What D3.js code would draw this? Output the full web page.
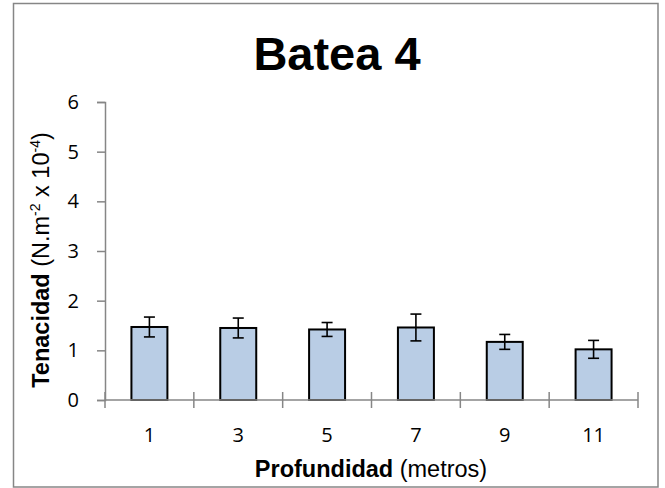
<!DOCTYPE html>
<html>
<head>
<meta charset="utf-8">
<script src="https://cdn.jsdelivr.net/npm/d3@7"></script>
<style>
  html, body { margin: 0; padding: 0; background: #fff; }
  svg { display: block; }
</style>
</head>
<body>
<svg id="chart" width="665" height="488"></svg>
<script>
// Depth (metres) and mean tenacity with its standard deviation
const depths = ["1", "3", "5", "7", "9", "11"];
const tenacity = [1.47, 1.45, 1.42, 1.46, 1.17, 1.02];
const tenacityErr = [0.20, 0.20, 0.14, 0.27, 0.15, 0.18];
const yTicks = [0, 1, 2, 3, 4, 5, 6];

const svg = d3.select("#chart");
const W = 665, H = 488;
const margin = { left: 105, right: 27, top: 102, bottom: 88 };
const axisColor = "#868686";
const tickFont = "'Open Sans', 'Liberation Sans', sans-serif";
const labelFont = "'Liberation Sans', Arial, sans-serif";

// outer frame
svg.append("rect")
  .attr("x", 13.5).attr("y", 3.5)
  .attr("width", 644.5).attr("height", 483.5)
  .attr("fill", "#fff")
  .attr("stroke", axisColor).attr("stroke-width", 1.5);

const x = d3.scaleBand()
  .domain(depths)
  .range([margin.left, W - margin.right])
  .paddingInner(0.595)
  .paddingOuter(0.2975);

const y = d3.scaleLinear()
  .domain([0, 6])
  .range([H - margin.bottom, margin.top]);

// title
svg.append("text")
  .attr("x", 337).attr("y", 70)
  .attr("text-anchor", "middle")
  .attr("font-family", labelFont)
  .attr("font-weight", "bold")
  .attr("font-size", 47)
  .text("Batea 4");

// bars
svg.append("g").selectAll("rect")
  .data(depths)
  .join("rect")
  .attr("x", d => x(d))
  .attr("y", (d, i) => y(tenacity[i]))
  .attr("width", x.bandwidth())
  .attr("height", (d, i) => y(0) - y(tenacity[i]))
  .attr("fill", "#b9cde5")
  .attr("stroke", "#000")
  .attr("stroke-width", 2);

// error bars
const capHalf = 5.5;
const err = svg.append("g").attr("stroke", "#000").attr("stroke-width", 1.6);
depths.forEach((d, i) => {
  const cx = x(d) + x.bandwidth() / 2;
  const hi = y(tenacity[i] + tenacityErr[i]);
  const lo = y(tenacity[i] - tenacityErr[i]);
  err.append("line").attr("x1", cx).attr("x2", cx).attr("y1", hi).attr("y2", lo);
  err.append("line").attr("x1", cx - capHalf).attr("x2", cx + capHalf).attr("y1", hi).attr("y2", hi);
  err.append("line").attr("x1", cx - capHalf).attr("x2", cx + capHalf).attr("y1", lo).attr("y2", lo);
});

// y axis
const yAxis = svg.append("g")
  .attr("transform", `translate(${margin.left},0)`)
  .call(d3.axisLeft(y).tickValues(yTicks).tickSize(8).tickPadding(18).tickFormat(d3.format("d")));
yAxis.select(".domain").attr("stroke", axisColor).attr("stroke-width", 1.5);
yAxis.selectAll(".tick line").attr("stroke", axisColor).attr("stroke-width", 1.5);
yAxis.selectAll(".tick text")
  .attr("fill", "#000").attr("font-family", tickFont).attr("font-size", 20);

// x axis: line plus crossing tick marks between categories
const xAxisY = y(0);
const xAxis = svg.append("g").attr("transform", `translate(0,${xAxisY})`);
xAxis.append("line")
  .attr("x1", margin.left).attr("x2", W - margin.right)
  .attr("stroke", axisColor).attr("stroke-width", 1.5);
const step = x.step();
const boundaries = d3.range(depths.length + 1).map(i => margin.left + i * step);
xAxis.selectAll("line.tick")
  .data(boundaries)
  .join("line")
  .attr("class", "tick")
  .attr("x1", d => d).attr("x2", d => d)
  .attr("y1", -8).attr("y2", 8)
  .attr("stroke", axisColor).attr("stroke-width", 1.5);
xAxis.selectAll("text")
  .data(depths)
  .join("text")
  .attr("x", d => x(d) + x.bandwidth() / 2)
  .attr("y", 42)
  .attr("text-anchor", "middle")
  .attr("font-family", tickFont)
  .attr("font-size", 20)
  .text(d => d);

// x axis title
const xt = svg.append("text")
  .attr("x", 371).attr("y", 477)
  .attr("text-anchor", "middle")
  .attr("font-family", labelFont)
  .attr("font-size", 23.5);
xt.append("tspan").attr("font-weight", "bold").text("Profundidad");
xt.append("tspan").text(" (metros)");

// y axis title
const yt = svg.append("text")
  .attr("transform", "translate(49,260) rotate(-90)")
  .attr("text-anchor", "middle")
  .attr("font-family", labelFont)
  .attr("font-size", 23.5);
yt.append("tspan").attr("font-weight", "bold").text("Tenacidad");
yt.append("tspan").text(" (N.m");
yt.append("tspan").attr("font-size", 14).attr("dy", -9).text("-2");
yt.append("tspan").attr("dy", 9).text(" x 10");
yt.append("tspan").attr("font-size", 14).attr("dy", -9).text("-4");
yt.append("tspan").attr("dy", 9).text(")");
</script>
</body>
</html>
